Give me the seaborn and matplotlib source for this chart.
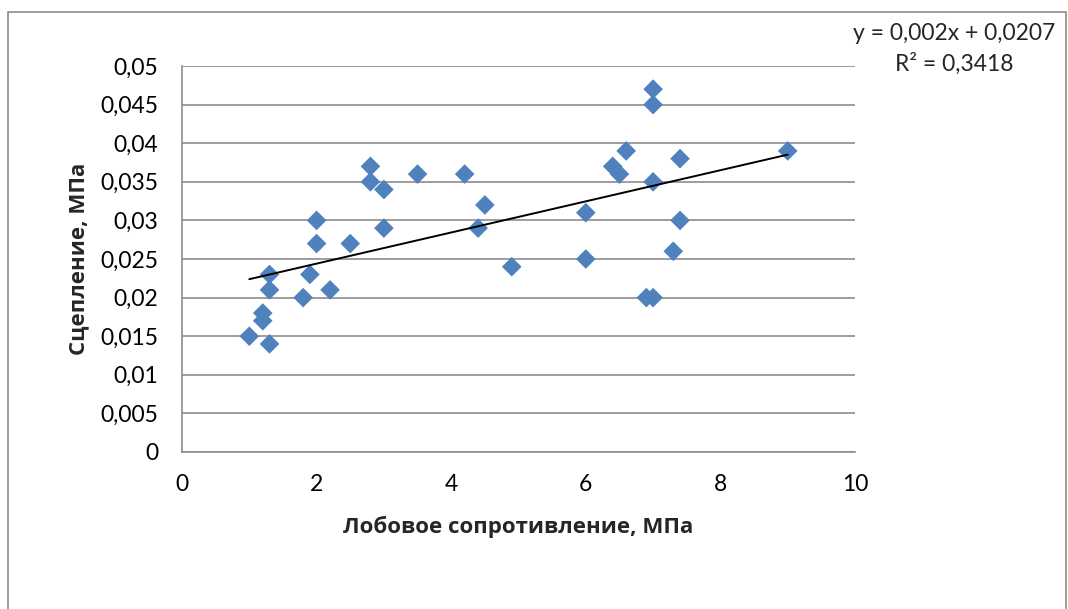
import numpy as np
import pandas as pd
import seaborn as sns
import matplotlib
matplotlib.use("Agg")
import matplotlib.pyplot as plt
from matplotlib.patches import Rectangle
from matplotlib.ticker import FuncFormatter

# Data
resistance = [1.0, 1.2, 1.2, 1.3, 1.3, 1.3, 1.8, 1.9, 2.0, 2.0, 2.2, 2.5,
              2.8, 2.8, 3.0, 3.0, 3.5, 4.2, 4.5, 4.4, 4.9, 6.0, 6.0, 6.4,
              6.5, 6.6, 7.0, 7.0, 7.0, 7.4, 7.4, 7.3, 6.9, 7.0, 9.0]
cohesion = [0.015, 0.018, 0.017, 0.014, 0.021, 0.023, 0.020, 0.023, 0.030, 0.027, 0.021, 0.027,
            0.037, 0.035, 0.034, 0.029, 0.036, 0.036, 0.032, 0.029, 0.024, 0.031, 0.025, 0.037,
            0.036, 0.039, 0.047, 0.045, 0.035, 0.038, 0.030, 0.026, 0.020, 0.020, 0.039]
x_ticks = [0, 2, 4, 6, 8, 10]
y_ticks = [0, 0.005, 0.01, 0.015, 0.02, 0.025, 0.03, 0.035, 0.04, 0.045, 0.05]
equation_text = "y = 0,002x + 0,0207"
r2_text = "R² = 0,3418"
x_label = "Лобовое сопротивление, МПа"
y_label = "Сцепление, МПа"

df = pd.DataFrame({"x": resistance, "y": cohesion})

sns.set_theme(style="white")
plt.rcParams['font.family'] = ['Lato', 'DejaVu Sans']

W, H = 1068, 609
fig = plt.figure(figsize=(W / 100, H / 100), dpi=100)
ax = fig.add_axes([182 / W, 1 - 452 / H, (855 - 182) / W, (452 - 66) / H])

# outer chart border
fig.patches.append(Rectangle((8 / W, -0.05), (1066 - 8) / W, 1 - 12 / H + 0.05,
                             transform=fig.transFigure, fill=False,
                             edgecolor="#8c8c8c", linewidth=1.2, zorder=0))

sns.regplot(data=df, x="x", y="y", ax=ax, ci=None, marker="D",
            scatter_kws={"s": 100, "color": "#4F81BD", "edgecolor": "none", "alpha": 1, "zorder": 3},
            line_kws={"color": "black", "linewidth": 1.4, "zorder": 4})

ax.set_xlim(0, 10)
ax.set_ylim(0, 0.05)
ax.set_xticks(x_ticks)
ax.set_yticks(y_ticks)

def comma(v, pos):
    s = ("%.3f" % v).rstrip("0").rstrip(".")
    return s.replace(".", ",")

ax.xaxis.set_major_formatter(FuncFormatter(comma))
ax.yaxis.set_major_formatter(FuncFormatter(comma))
ax.tick_params(axis="both", length=0, labelsize=16.5, colors="black")
ax.tick_params(axis="x", pad=16)
ax.tick_params(axis="y", pad=17)

ax.yaxis.grid(True, color="#8c8c8c", linewidth=1.2)
ax.xaxis.grid(False)
for s in ["top", "right"]:
    ax.spines[s].set_visible(False)
for s in ["left", "bottom"]:
    ax.spines[s].set_color("#8c8c8c")
    ax.spines[s].set_linewidth(1.2)

bold_font = ['Open Sans', 'DejaVu Sans']
ax.set_xlabel(x_label, fontsize=16, fontweight="bold", family=bold_font, labelpad=15)
ax.set_ylabel(y_label, fontsize=16, fontweight="bold", family=bold_font, labelpad=8)

fig.text(954 / W, 1 - 33 / H, equation_text, ha="center", va="center", fontsize=16.5)
fig.text(954 / W, 1 - 64 / H, r2_text, ha="center", va="center", fontsize=16.5)

fig.savefig("out.png", dpi=100)
